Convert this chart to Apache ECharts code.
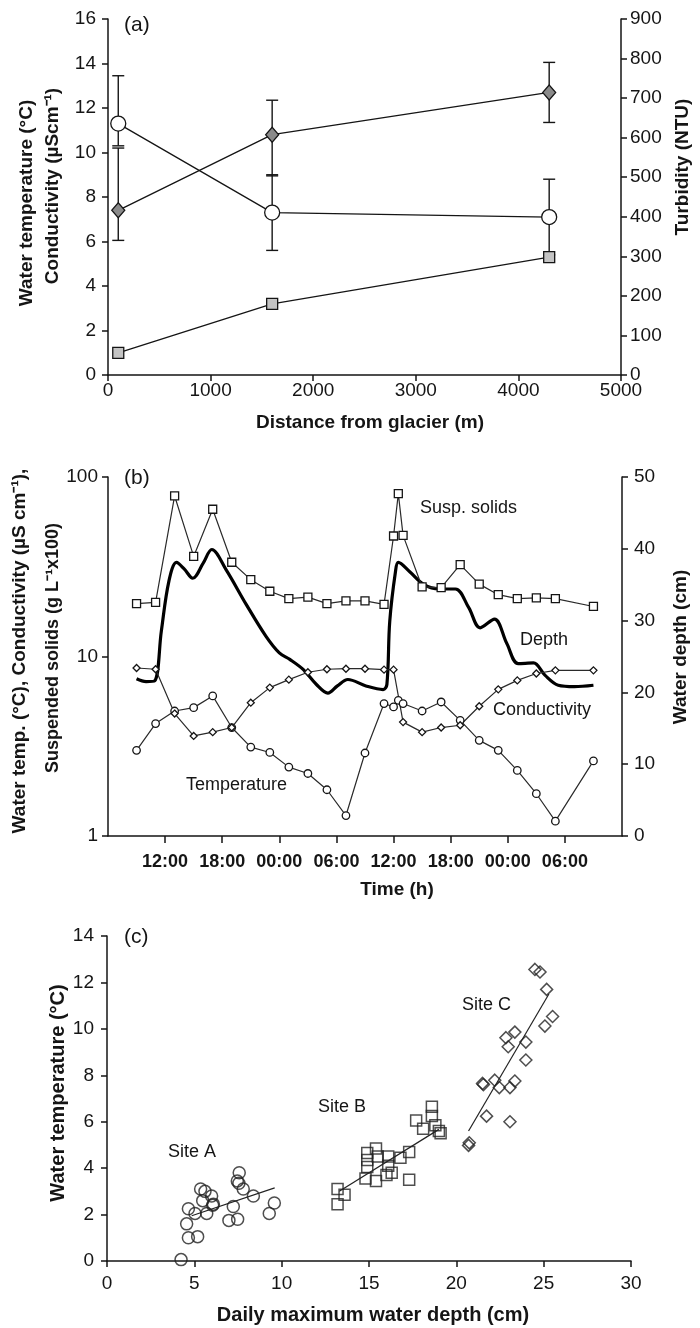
<!DOCTYPE html>
<html>
<head>
<meta charset="utf-8">
<script src="https://cdn.jsdelivr.net/npm/echarts@6/dist/echarts.min.js"></script>
<style>
  html, body { margin: 0; padding: 0; background: #fff; }
  #chart { width: 700px; height: 1328px; }
</style>
</head>
<body>
<div id="chart"></div>
<script>
// ---------- (a) survey along the outflow stream ----------
const distance = [100, 1600, 4300];
const tempMean = [7.4, 10.8, 12.7];
const tempLow = [6.05, 8.95, 11.35];
const tempHigh = [10.2, 12.35, 14.05];
const condMean = [11.3, 7.3, 7.1];
const condLow = [10.3, 5.6, 5.4];
const condHigh = [13.45, 9.0, 8.8];
const turbidity = [56, 180, 298];

// ---------- (b) diel record, hours counted from 06:00 on day 1 ----------
const sampleHours = [3, 5, 7, 9, 11, 13, 15, 17, 19, 21, 23, 25, 27, 29, 30, 30.5, 31, 33, 35, 37, 39, 41, 43, 45, 47, 51];
const suspSolids = [19.7, 20.0, 78.4, 36.1, 66.1, 33.5, 26.8, 23.1, 21.0, 21.4, 19.7, 20.4, 20.4, 19.5, 46.9, 80.8, 47.3, 24.4, 24.2, 32.5, 25.3, 22.1, 21.0, 21.2, 21.0, 19.0];
const temperature = [3.0, 4.23, 4.97, 5.19, 6.03, 4.02, 3.13, 2.92, 2.42, 2.23, 1.81, 1.30, 2.90, 5.47, 5.24, 5.70, 5.47, 4.97, 5.58, 4.41, 3.41, 3.0, 2.32, 1.72, 1.21, 2.62];
const conductivity = [8.63, 8.49, 4.81, 3.61, 3.79, 4.02, 5.53, 6.71, 7.43, 8.17, 8.49, 8.55, 8.55, 8.45, 8.45, null, 4.31, 3.79, 4.02, 4.14, 5.28, 6.56, 7.36, 8.04, 8.37, 8.37];
const depthHours = [3, 4, 4.9, 5.6, 6.4, 7.2, 8, 8.9, 10, 10.9, 12.4, 14.5, 16.6, 18, 19.1, 20.5, 21.9, 23.1, 24.1, 25.2, 27.1, 28.9, 29.3, 29.6, 30.2, 30.5, 31.7, 33.2, 34.8, 36.5, 37.9, 39.1, 40.6, 41.9, 43.1, 44.7, 45.9, 47.3, 49, 51];
const depthCm = [21.9, 21.5, 21.6, 28.5, 35.5, 38.1, 37.2, 35.9, 38.0, 39.9, 37.1, 32.3, 27.8, 25.5, 24.6, 23.2, 21.1, 19.9, 20.9, 21.8, 20.9, 20.4, 21.1, 29.9, 36.8, 38.1, 36.8, 35.0, 34.4, 34.4, 31.8, 29.0, 30.2, 26.8, 24.0, 24.1, 22.4, 21.0, 20.8, 21.0];
const timeTicks = ['06:00', '12:00', '18:00', '00:00'];

// ---------- (c) daily maximum depth vs water temperature ----------
const siteADepth = [4.24, 4.66, 5.19, 4.56, 4.66, 5.04, 5.36, 5.61, 5.48, 5.99, 6.09, 5.71, 6.05, 7.57, 7.46, 7.55, 7.8, 8.38, 7.23, 6.98, 7.48, 9.58, 9.29];
const siteATemp = [0.06, 1.0, 1.05, 1.6, 2.25, 2.05, 3.1, 3.0, 2.6, 2.8, 2.45, 2.05, 2.4, 3.8, 3.45, 3.35, 3.1, 2.8, 2.35, 1.75, 1.8, 2.5, 2.05];
const siteBDepth = [13.2, 13.2, 13.6, 14.9, 14.9, 14.9, 14.8, 15.4, 15.5, 15.4, 16.1, 16.1, 16.0, 16.3, 16.8, 17.3, 17.3, 17.7, 18.1, 18.6, 18.6, 18.8, 19.0, 19.1];
const siteBTemp = [3.1, 2.45, 2.85, 4.65, 4.35, 4.05, 3.55, 4.85, 4.5, 3.45, 4.5, 4.1, 3.7, 3.8, 4.45, 4.7, 3.5, 6.05, 5.7, 6.65, 6.25, 5.85, 5.6, 5.5];
const siteCDepth = [24.5, 24.79, 25.17, 25.51, 25.07, 23.35, 22.84, 22.97, 23.98, 23.98, 21.5, 21.55, 22.2, 22.46, 23.07, 23.35, 21.73, 23.07, 20.74, 20.7];
const siteCTemp = [12.56, 12.45, 11.7, 10.53, 10.12, 9.86, 9.62, 9.23, 9.43, 8.66, 7.65, 7.6, 7.79, 7.47, 7.47, 7.75, 6.24, 6.0, 5.09, 4.98];
const fitA = [[4.85, 1.95], [9.6, 3.15]];
const fitB = [[13.3, 3.0], [19.0, 5.67]];
const fitC = [[20.7, 5.6], [25.3, 11.5]];

const FONT = 'Liberation Sans, Arial, sans-serif';
const INK = '#151515';

const zip = (xs, ys) => xs.map((x, i) => [x, ys[i]]);
const zip3 = (xs, a, b) => xs.map((x, i) => [x, a[i], b[i]]);
const plain = v => String(v);

function axisBase(extra) {
  return Object.assign({
    type: 'value',
    axisLine: { show: true, onZero: false, lineStyle: { color: INK, width: 1.5 } },
    axisTick: { show: true, inside: false, length: 6, lineStyle: { color: INK, width: 1.5 } },
    splitLine: { show: false },
    minorTick: { show: false }
  }, extra);
}

function numLabels(margin, size) {
  return { color: INK, fontSize: size || 19, fontFamily: FONT, margin, formatter: plain };
}

// vertical bar with caps between the low and high value of each row
function errorBar(params, api) {
  const x = api.value(0);
  const lo = api.coord([x, api.value(1)]);
  const hi = api.coord([x, api.value(2)]);
  const hw = 6;
  const style = { stroke: INK, lineWidth: 1.4 };
  return {
    type: 'group',
    children: [
      { type: 'line', shape: { x1: lo[0], y1: lo[1], x2: hi[0], y2: hi[1] }, style },
      { type: 'line', shape: { x1: lo[0] - hw, y1: lo[1], x2: lo[0] + hw, y2: lo[1] }, style },
      { type: 'line', shape: { x1: hi[0] - hw, y1: hi[1], x2: hi[0] + hw, y2: hi[1] }, style }
    ]
  };
}

function label(x, y, text, opt) {
  opt = opt || {};
  return {
    type: 'text',
    x, y,
    rotation: opt.rotate ? Math.PI / 2 : 0,
    silent: true,
    z: 100,
    style: {
      text,
      x: 0, y: 0,
      fill: opt.color || INK,
      fontFamily: FONT,
      fontSize: opt.size || 19,
      fontWeight: opt.bold ? 'bold' : 'normal',
      align: opt.align || 'center',
      verticalAlign: 'middle',
      textAlign: opt.align || 'center',
      textVerticalAlign: 'middle'
    }
  };
}

const lineStyleThin = { color: '#2a2a2a', width: 1.2 };
const markerStyle = (fill) => ({ color: fill, borderColor: INK, borderWidth: 1.3 });
const hollow = { color: 'rgba(255,255,255,0)', borderColor: '#222', borderWidth: 1.5 };

const chart = echarts.init(document.getElementById('chart'), null, { renderer: 'canvas' });

chart.setOption({
  animation: false,
  backgroundColor: '#ffffff',
  grid: [
    { left: 108, top: 19, width: 513, height: 356 },
    { left: 108, top: 477, width: 514, height: 359 },
    { left: 107, top: 936, width: 524, height: 325 }
  ],
  xAxis: [
    axisBase({ gridIndex: 0, min: 0, max: 5000, interval: 1000, axisLabel: numLabels(6) }),
    axisBase({ gridIndex: 1, min: 0, max: 54, interval: 6,
      axisTick: { show: true, length: 7, lineStyle: { color: INK, width: 1.5 } },
      axisLabel: {
        color: INK, fontSize: 18, fontWeight: 'bold', fontFamily: FONT, margin: 17,
        showMinLabel: false, showMaxLabel: false,
        formatter: v => (v <= 0 || v >= 54) ? '' : timeTicks[(Math.round(v / 6) + 4) % 4]
      } }),
    axisBase({ gridIndex: 2, min: 0, max: 30, interval: 5, axisLabel: numLabels(13) })
  ],
  yAxis: [
    axisBase({ gridIndex: 0, position: 'left', min: 0, max: 16, interval: 2, axisLabel: numLabels(12) }),
    axisBase({ gridIndex: 0, position: 'right', min: 0, max: 900, interval: 100, axisLabel: numLabels(9) }),
    axisBase({ gridIndex: 1, type: 'log', logBase: 10, position: 'left', min: 1, max: 100, axisLabel: numLabels(10) }),
    axisBase({ gridIndex: 1, position: 'right', min: 0, max: 50, interval: 10, axisLabel: numLabels(12) }),
    axisBase({ gridIndex: 2, position: 'left', min: 0, max: 14, interval: 2, axisLabel: numLabels(13) })
  ],
  series: [
    // ----- (a) -----
    { type: 'custom', name: 'Water temperature SD', xAxisIndex: 0, yAxisIndex: 0,
      renderItem: errorBar, encode: { x: 0, y: [1, 2] }, data: zip3(distance, tempLow, tempHigh), z: 2 },
    { type: 'custom', name: 'Conductivity SD', xAxisIndex: 0, yAxisIndex: 0,
      renderItem: errorBar, encode: { x: 0, y: [1, 2] }, data: zip3(distance, condLow, condHigh), z: 2 },
    { type: 'line', name: 'Water temperature', xAxisIndex: 0, yAxisIndex: 0,
      data: zip(distance, tempMean), symbol: 'diamond', symbolSize: [13, 15],
      lineStyle: { color: INK, width: 1.3 }, itemStyle: markerStyle('#8a8a8a'), z: 4 },
    { type: 'line', name: 'Conductivity', xAxisIndex: 0, yAxisIndex: 0,
      data: zip(distance, condMean), symbol: 'circle', symbolSize: 15,
      lineStyle: { color: INK, width: 1.3 }, itemStyle: markerStyle('#ffffff'), z: 4 },
    { type: 'line', name: 'Turbidity', xAxisIndex: 0, yAxisIndex: 1,
      data: zip(distance, turbidity), symbol: 'rect', symbolSize: 11,
      lineStyle: { color: INK, width: 1.3 }, itemStyle: markerStyle('#c4c4c4'), z: 4 },

    // ----- (b) -----
    { type: 'line', name: 'Susp. solids', xAxisIndex: 1, yAxisIndex: 2,
      data: zip(sampleHours, suspSolids), symbol: 'rect', symbolSize: 8,
      lineStyle: lineStyleThin, itemStyle: markerStyle('#ffffff'), z: 4 },
    { type: 'line', name: 'Temperature', xAxisIndex: 1, yAxisIndex: 2,
      data: zip(sampleHours, temperature), symbol: 'circle', symbolSize: 7.5,
      lineStyle: lineStyleThin, itemStyle: markerStyle('#ffffff'), z: 4 },
    { type: 'line', name: 'Conductivity', xAxisIndex: 1, yAxisIndex: 2,
      data: zip(sampleHours, conductivity), connectNulls: true, symbol: 'diamond', symbolSize: 7,
      lineStyle: lineStyleThin, itemStyle: markerStyle('#ffffff'), z: 4 },
    { type: 'line', name: 'Depth', xAxisIndex: 1, yAxisIndex: 3,
      data: zip(depthHours, depthCm), symbol: 'none', smooth: 0.35,
      lineStyle: { color: '#000', width: 3.2 }, z: 3 },

    // ----- (c) -----
    { type: 'scatter', name: 'Site A', xAxisIndex: 2, yAxisIndex: 4,
      data: zip(siteADepth, siteATemp), symbol: 'circle', symbolSize: 12, itemStyle: hollow },
    { type: 'scatter', name: 'Site B', xAxisIndex: 2, yAxisIndex: 4,
      data: zip(siteBDepth, siteBTemp), symbol: 'rect', symbolSize: 11, itemStyle: hollow },
    { type: 'scatter', name: 'Site C', xAxisIndex: 2, yAxisIndex: 4,
      data: zip(siteCDepth, siteCTemp), symbol: 'diamond', symbolSize: 12, itemStyle: hollow },
    { type: 'line', name: 'Site A fit', xAxisIndex: 2, yAxisIndex: 4, data: fitA, symbol: 'none',
      lineStyle: { color: '#222', width: 1.2 } },
    { type: 'line', name: 'Site B fit', xAxisIndex: 2, yAxisIndex: 4, data: fitB, symbol: 'none',
      lineStyle: { color: '#222', width: 1.2 } },
    { type: 'line', name: 'Site C fit', xAxisIndex: 2, yAxisIndex: 4, data: fitC, symbol: 'none',
      lineStyle: { color: '#222', width: 1.2 } }
  ],
  graphic: [
    // panel letters
    label(124, 25, '(a)', { size: 21, align: 'left' }),
    label(124, 478, '(b)', { size: 21, align: 'left' }),
    label(124, 937, '(c)', { size: 21, align: 'left' }),

    // (a) axis titles
    label(27, 203, 'Water temperature (°C)', { rotate: true, bold: true, size: 19 }),
    label(53, 186, 'Conductivity (µScm⁻¹)', { rotate: true, bold: true, size: 19 }),
    label(683, 167, 'Turbidity (NTU)', { rotate: true, bold: true, size: 19 }),
    label(370, 423, 'Distance from glacier (m)', { bold: true, size: 19 }),

    // (b) axis titles and series names
    label(20, 651, 'Water temp. (°C), Conductivity (µS cm⁻¹),', { rotate: true, bold: true, size: 19 }),
    label(53, 648, 'Suspended solids (g L⁻¹x100)', { rotate: true, bold: true, size: 18 }),
    label(681, 647, 'Water depth (cm)', { rotate: true, bold: true, size: 19 }),
    label(397, 890, 'Time (h)', { bold: true, size: 19 }),
    label(420, 508, 'Susp. solids', { size: 18, align: 'left' }),
    label(520, 640, 'Depth', { size: 18, align: 'left' }),
    label(493, 710, 'Conductivity', { size: 18, align: 'left' }),
    label(186, 785, 'Temperature', { size: 18, align: 'left' }),

    // (c) axis titles and site names
    label(58, 1093, 'Water temperature (°C)', { rotate: true, bold: true, size: 20 }),
    label(373, 1315, 'Daily maximum water depth (cm)', { bold: true, size: 20 }),
    label(168, 1152, 'Site A', { size: 18, align: 'left' }),
    label(318, 1107, 'Site B', { size: 18, align: 'left' }),
    label(462, 1005, 'Site C', { size: 18, align: 'left' })
  ]
});
</script>
</body>
</html>
